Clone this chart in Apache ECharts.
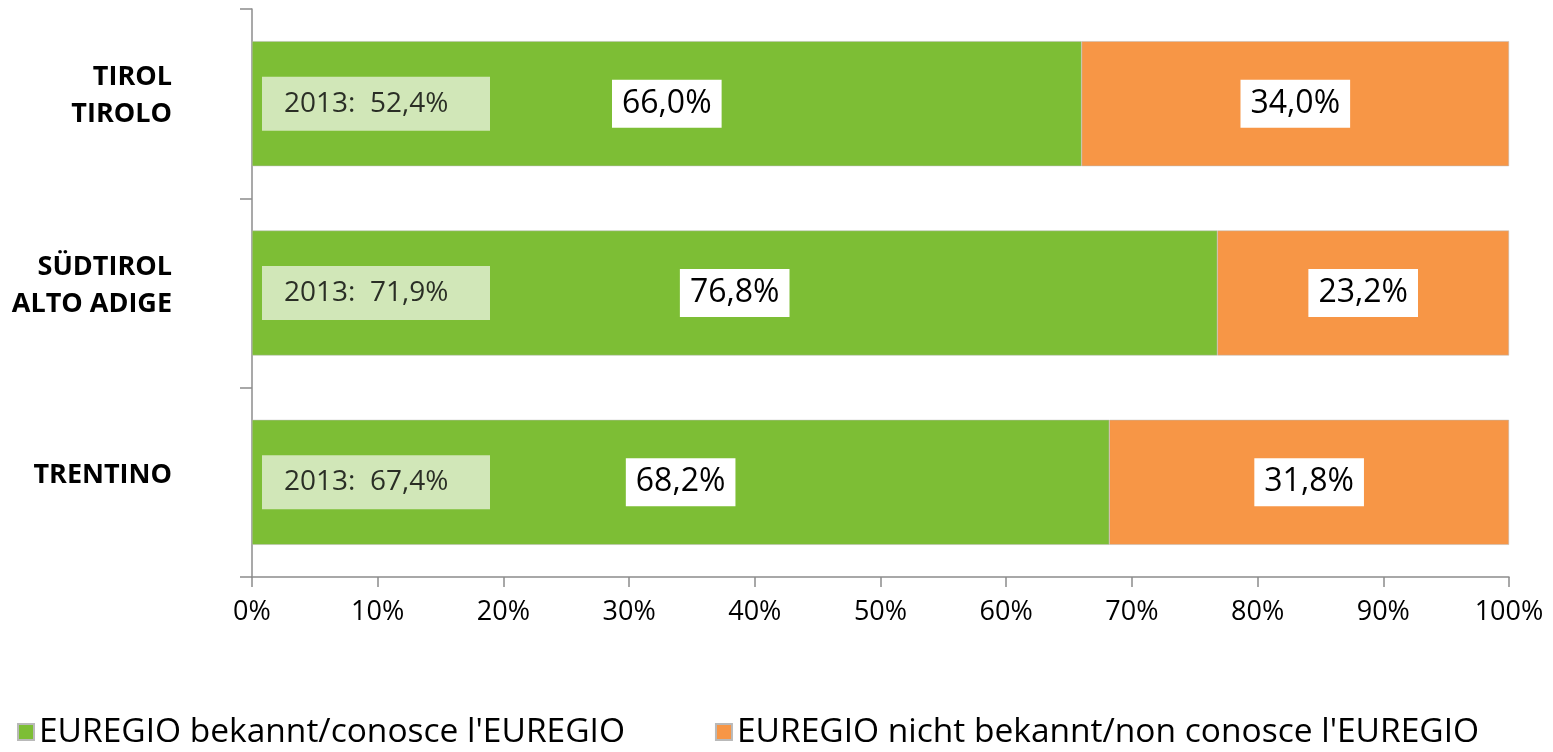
<!DOCTYPE html>
<html>
<head>
<meta charset="utf-8">
<script src="https://cdn.jsdelivr.net/npm/echarts@6/dist/echarts.min.js"></script>
<style>
html,body{margin:0;padding:0;background:#fff;}
#main{width:1553px;height:752px;}
</style>
</head>
<body>
<div id="main"></div>
<script>
// categories, top to bottom
const regions = ['TIROL\nTIROLO', 'SÜDTIROL\nALTO ADIGE', 'TRENTINO'];
// share that knows the EUREGIO / does not know it (%)
const known = [66.0, 76.8, 68.2];
const notKnown = [34.0, 23.2, 31.8];
// previous survey, 2013
const known2013 = [52.4, 71.9, 67.4];
const xTicks = [0, 10, 20, 30, 40, 50, 60, 70, 80, 90, 100];

const FONT = 'Open Sans';
const fmt = v => v.toFixed(1).replace('.', ',') + '%';

const chart = echarts.init(document.getElementById('main'));

const valueLabel = {
    show: true,
    position: 'inside',
    formatter: p => fmt(p.value),
    color: '#000',
    fontFamily: FONT,
    fontSize: 32,
    backgroundColor: '#fff',
    padding: [8, 10, 8, 10]
};

const option = {
    animation: false,
    grid: {
        left: 252,
        right: 44,
        top: 9,
        bottom: 175,
        containLabel: false
    },
    legend: {
        data: ['EUREGIO bekannt/conosce l\'EUREGIO', 'EUREGIO nicht bekannt/non conosce l\'EUREGIO'],
        left: 12,
        top: 710,
        itemWidth: 16,
        itemHeight: 16,
        itemGap: 90,
        icon: 'rect',
        textStyle: {
            fontFamily: FONT,
            fontSize: 33.5,
            color: '#000'
        }
    },
    xAxis: {
        type: 'value',
        min: 0,
        max: 100,
        interval: 10,
        splitLine: {show: false},
        axisLine: {show: true, lineStyle: {color: '#8c8c8c', width: 1.5}},
        axisTick: {show: true, length: 10, lineStyle: {color: '#8c8c8c', width: 1.5}},
        axisLabel: {
            margin: 22,
            fontFamily: FONT,
            fontSize: 27,
            color: '#000',
            formatter: v => xTicks.includes(v) ? v + '%' : ''
        }
    },
    yAxis: {
        type: 'category',
        inverse: true,
        data: regions,
        axisLine: {show: true, lineStyle: {color: '#8c8c8c', width: 1.5}},
        axisTick: {show: true, length: 12, alignWithLabel: false, lineStyle: {color: '#8c8c8c', width: 1.5}},
        axisLabel: {
            margin: 80,
            align: 'right',
            // trailing spacer line lifts the label a little, like the original
            formatter: v => v.split('\n').map(s => '{n|' + s + '}').join('\n') + '\n{s|}',
            rich: {
                n: {
                    fontFamily: FONT,
                    fontSize: 27,
                    fontWeight: 'bold',
                    color: '#000',
                    lineHeight: 37,
                    align: 'right'
                },
                s: {lineHeight: 15, fontSize: 10}
            }
        }
    },
    series: [
        {
            name: 'EUREGIO bekannt/conosce l\'EUREGIO',
            type: 'bar',
            stack: 'all',
            barWidth: '66%',
            data: known,
            itemStyle: {color: '#7dbe35', borderColor: '#b9b9b9', borderWidth: 0.5},
            label: valueLabel
        },
        {
            name: 'EUREGIO nicht bekannt/non conosce l\'EUREGIO',
            type: 'bar',
            stack: 'all',
            barWidth: '66%',
            data: notKnown,
            itemStyle: {color: '#f79646', borderColor: '#b9b9b9', borderWidth: 0.5},
            label: valueLabel
        },
        {
            // 2013 comparison boxes, anchored at the start of each bar
            name: '2013',
            type: 'scatter',
            z: 5,
            symbolSize: 0,
            silent: true,
            data: known2013.map((v, i) => ({value: [0, i], v2013: v})),
            label: {
                show: true,
                position: 'right',
                distance: 10,
                formatter: p => '2013:  ' + fmt(p.data.v2013),
                color: '#000',
                fontFamily: FONT,
                fontSize: 28,
                backgroundColor: '#e6f1da',
                width: 186,
                padding: [13, 20, 13, 22]
            }
        }
    ]
};

chart.setOption(option);
</script>
</body>
</html>
